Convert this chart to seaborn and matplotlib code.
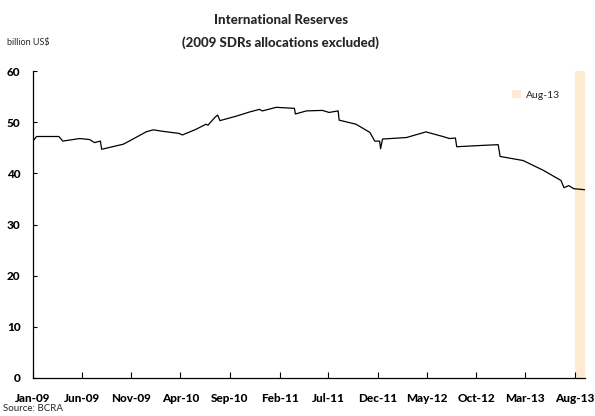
import matplotlib
matplotlib.use("Agg")
import matplotlib.pyplot as plt
from matplotlib.patches import Patch
import pandas as pd
import seaborn as sns

# International reserves, billion US$ (2009 SDR allocations excluded)
dates = [
    "2009-01-01", "2009-01-12", "2009-03-22", "2009-04-03", "2009-05-25",
    "2009-06-25", "2009-07-10", "2009-07-28", "2009-08-01", "2009-10-07",
    "2009-10-25", "2009-12-16", "2010-01-07", "2010-02-07", "2010-03-28",
    "2010-04-07", "2010-05-19", "2010-06-19", "2010-06-25", "2010-07-16",
    "2010-07-25", "2010-08-01", "2010-09-22", "2010-11-01", "2010-12-01",
    "2010-12-10", "2011-01-22", "2011-03-19", "2011-03-22", "2011-04-25",
    "2011-06-13", "2011-07-04", "2011-08-01", "2011-08-04", "2011-09-25",
    "2011-11-07", "2011-11-22", "2011-12-07", "2011-12-10", "2011-12-16",
    "2012-02-28", "2012-04-28", "2012-06-19", "2012-07-10", "2012-07-28",
    "2012-08-01", "2012-11-01", "2012-12-07", "2012-12-13", "2013-02-22",
    "2013-04-25", "2013-06-19", "2013-06-28", "2013-07-13", "2013-07-28",
    "2013-08-31",
]
reserves = [
    46.3, 47.2, 47.2, 46.3, 46.8,
    46.6, 46.0, 46.3, 44.7, 45.7,
    46.3, 48.1, 48.5, 48.2, 47.8,
    47.5, 48.6, 49.6, 49.4, 50.9,
    51.4, 50.3, 51.2, 52.0, 52.5,
    52.2, 52.9, 52.7, 51.6, 52.2,
    52.3, 51.9, 52.2, 50.4, 49.6,
    48.0, 46.3, 46.3, 44.8, 46.7,
    47.0, 48.1, 47.2, 46.8, 46.9,
    45.2, 45.5, 45.6, 43.3, 42.5,
    40.6, 38.6, 37.2, 37.6, 37.0,
    36.8,
]

# Highlighted month
band_label = "Aug-13"
band_start, band_end = "2013-08-01", "2013-09-01"

# Axis ticks
y_ticks = [0, 10, 20, 30, 40, 50, 60]
x_tick_dates = pd.date_range("2009-01-01", "2013-08-01", freq="5MS")
x_tick_labels = [d.strftime("%b-%y") for d in x_tick_dates]

df = pd.DataFrame({"date": pd.to_datetime(dates), "value": reserves})

sns.set_style("ticks")
plt.rcParams["font.family"] = ["Lato", "DejaVu Sans"]
HEAVY = 900

fig = plt.figure(figsize=(5.95, 4.16), dpi=100)
ax = fig.add_axes([33 / 595, 1 - 378 / 416, 552 / 595, 307 / 416])

ax.axvspan(pd.Timestamp(band_start), pd.Timestamp(band_end),
           color="#FCEBD0", lw=0, zorder=0)
sns.lineplot(data=df, x="date", y="value", ax=ax, color="black",
             linewidth=0.9, estimator=None, sort=False, zorder=3)

ax.set_xlim(pd.Timestamp("2009-01-01"), pd.Timestamp("2013-09-01"))
ax.set_ylim(0, 60)
ax.set_yticks(y_ticks, labels=[str(v) for v in y_ticks],
              fontweight=HEAVY, fontsize=8.5)
ax.set_xticks(x_tick_dates, labels=x_tick_labels,
              fontweight=HEAVY, fontsize=8.5)
ax.set_xlabel("")
ax.set_ylabel("")

sns.despine(ax=ax)
for s in ("left", "bottom"):
    ax.spines[s].set_linewidth(0.9)
    ax.spines[s].set_color("black")

ax.tick_params(axis="y", direction="in", length=3, width=0.8, pad=9,
               colors="black")
ax.tick_params(axis="x", direction="in", length=4, width=0.8, pad=11,
               colors="black")

ax.legend(handles=[Patch(facecolor="#FCEBD0", edgecolor="none",
                         label=band_label)],
          loc="upper left", bbox_to_anchor=(0.85, 0.97),
          frameon=False, fontsize=7.5, handlelength=0.9,
          handleheight=0.9, handletextpad=0.5)

fig.text(0.472, 0.952, "International Reserves", ha="center", va="center",
         fontsize=9.5, fontweight=HEAVY)
fig.text(0.472, 0.897, "(2009 SDRs allocations excluded)", ha="center",
         va="center", fontsize=9.5, fontweight=HEAVY)
fig.text(0.012, 0.897, "billion US$", ha="left", va="center", fontsize=6.5)
fig.text(0.005, 0.018, "Source: BCRA", ha="left", va="center", fontsize=7)

fig.savefig("out.png", dpi=100)
